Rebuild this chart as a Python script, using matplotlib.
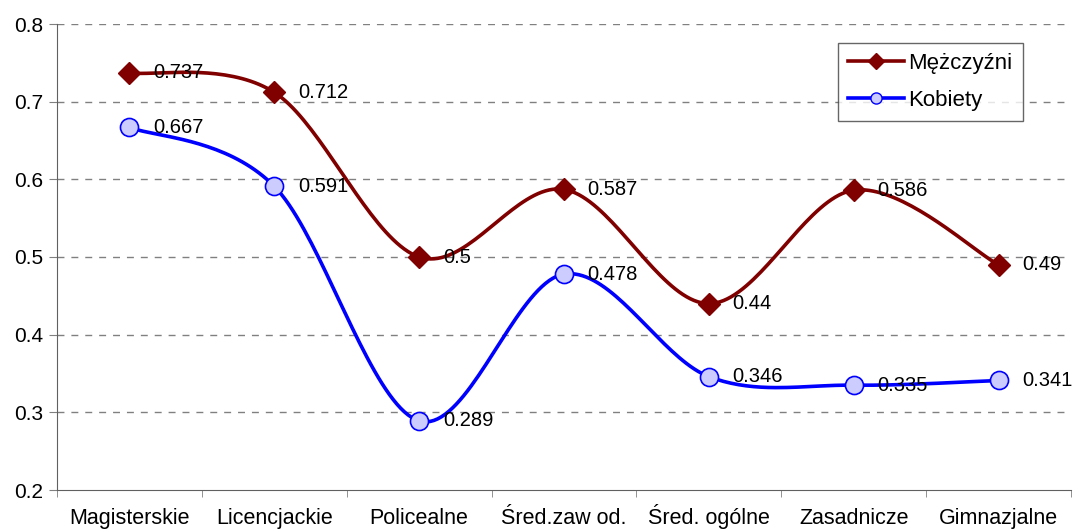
import numpy as np
import matplotlib
matplotlib.use("Agg")
import matplotlib.pyplot as plt
from matplotlib.lines import Line2D

categories = ["Magisterskie", "Licencjackie", "Policealne", "Śred.zaw od.",
              "Śred. ogólne", "Zasadnicze", "Gimnazjalne"]
men = [0.737, 0.712, 0.5, 0.587, 0.44, 0.586, 0.49]
women = [0.667, 0.591, 0.289, 0.478, 0.346, 0.335, 0.341]
men_labels = ["0.737", "0.712", "0.5", "0.587", "0.44", "0.586", "0.49"]
women_labels = ["0.667", "0.591", "0.289", "0.478", "0.346", "0.335", "0.341"]

plt.rcParams['font.family'] = ['Liberation Sans', 'DejaVu Sans']


def smooth(x, y, n=40, t=0.5):
    # Catmull-Rom style smoothing of the polyline (like Excel's smoothed line)
    x = np.asarray(x, float)
    y = np.asarray(y, float)
    px = np.concatenate([[x[0]], x, [x[-1]]])
    py = np.concatenate([[y[0]], y, [y[-1]]])
    xs, ys = [], []
    for i in range(1, len(px) - 2):
        p0 = np.array([px[i - 1], py[i - 1]])
        p1 = np.array([px[i], py[i]])
        p2 = np.array([px[i + 1], py[i + 1]])
        p3 = np.array([px[i + 2], py[i + 2]])
        m1 = (p2 - p0) * t
        m2 = (p3 - p1) * t
        s = np.linspace(0, 1, n)
        h00 = 2 * s**3 - 3 * s**2 + 1
        h10 = s**3 - 2 * s**2 + s
        h01 = -2 * s**3 + 3 * s**2
        h11 = s**3 - s**2
        pts = (np.outer(h00, p1) + np.outer(h10, m1) +
               np.outer(h01, p2) + np.outer(h11, m2))
        xs.extend(pts[:, 0])
        ys.extend(pts[:, 1])
    return np.array(xs), np.array(ys)


fig = plt.figure(figsize=(10.74, 5.30), dpi=100)
ax = fig.add_axes([57 / 1074, 40 / 530, (1071 - 57) / 1074, (490 - 24) / 530])

x = np.arange(len(categories))
red = "#800000"
blue = "#0000FF"

sx, sy = smooth(x, men)
ax.plot(sx, sy, color=red, lw=2.6, zorder=3)
ax.plot(x, men, ls='none', marker='D', ms=11, color=red, mec=red, zorder=4)

sx, sy = smooth(x, women)
ax.plot(sx, sy, color=blue, lw=2.6, zorder=3)
ax.plot(x, women, ls='none', marker='o', ms=13, mfc="#CCCCFF", mec=blue,
        mew=1.2, zorder=4)

for xi, v, lab in zip(x, men, men_labels):
    ax.annotate(lab, (xi, v), xytext=(17, 0), textcoords='offset points',
                va='center', ha='left', fontsize=14.5, zorder=5)
for xi, v, lab in zip(x, women, women_labels):
    ax.annotate(lab, (xi, v), xytext=(17, 0), textcoords='offset points',
                va='center', ha='left', fontsize=14.5, zorder=5)

ax.set_xlim(-0.5, len(categories) - 0.5)
ax.set_ylim(0.2, 0.8)
ax.set_yticks(np.arange(0.2, 0.81, 0.1))
ax.set_yticklabels(["0.2", "0.3", "0.4", "0.5", "0.6", "0.7", "0.8"])
ax.set_xticks(x)
ax.set_xticklabels(categories, va='baseline')
ax.set_xticks(np.arange(-0.5, len(categories) + 0.5, 1), minor=True)
ax.tick_params(axis='x', which='major', length=0, pad=24.5, labelsize=15.5)
ax.tick_params(axis='x', which='minor', length=5, color='#808080')
ax.tick_params(axis='y', length=6, color='#808080', labelsize=15, pad=4)

for yv in np.arange(0.3, 0.81, 0.1):
    ax.axhline(yv, color='#808080', lw=1, ls=(0, (5, 5)), zorder=1)

for s in ['top', 'right']:
    ax.spines[s].set_visible(False)
ax.spines['left'].set_color('#606060')
ax.spines['bottom'].set_color('#606060')

handles = [
    Line2D([], [], color=red, lw=2.6, marker='D', ms=8, mec=red),
    Line2D([], [], color=blue, lw=2.6, marker='o', ms=8, mfc="#CCCCFF", mec=blue),
]
leg = fig.legend(handles, ["Mężczyźni", "Kobiety"],
                 loc='upper left', bbox_to_anchor=(838 / 1074, 1 - 43 / 530),
                 fontsize=16, frameon=True, fancybox=False, handlelength=2.5,
                 borderpad=0.45, labelspacing=0.72, handletextpad=0.22,
                 borderaxespad=0)
leg.get_frame().set_edgecolor('#404040')
leg.get_frame().set_linewidth(1)

fig.savefig("out.png", dpi=100)
